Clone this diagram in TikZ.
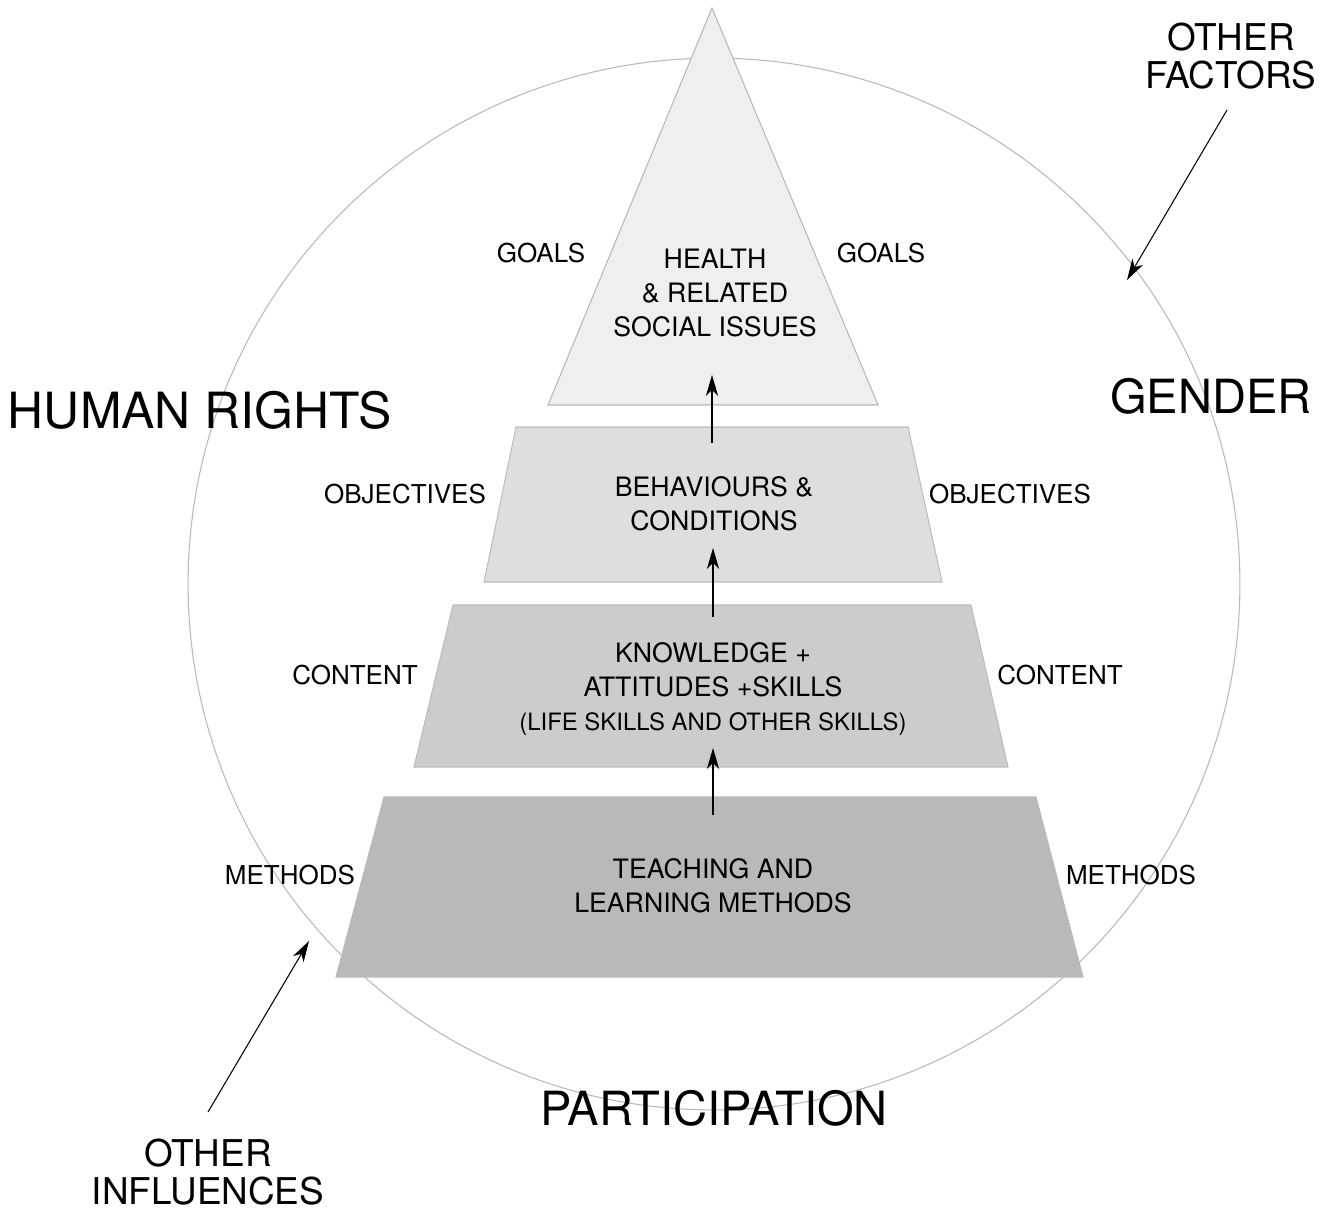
\documentclass[tikz,border=0pt]{standalone}
\usepackage{fontspec}
\setmainfont{TeX Gyre Heros}
\usetikzlibrary{arrows.meta}

\definecolor{ringgray}{HTML}{B8B8B8}
\definecolor{tierA}{HTML}{EFEFEF}
\definecolor{tierB}{HTML}{DEDEDE}
\definecolor{tierC}{HTML}{CCCCCC}
\definecolor{tierD}{HTML}{B9B9B9}

\tikzset{
  arr/.style={-{Stealth[length=12pt,width=7pt,inset=3.5pt]}, line width=0.6pt},
  side/.style={font=\fontsize{14.8pt}{19.5pt}\selectfont, align=center},
  inner/.style={font=\fontsize{15.2pt}{19.5pt}\selectfont, align=center},
  big/.style={font=\fontsize{26.8pt}{30pt}\selectfont, align=center},
  mid/.style={font=\fontsize{21pt}{21.5pt}\selectfont, align=center}
}

\begin{document}
\begin{tikzpicture}[x=0.02cm, y=-0.02cm]
      \useasboundingbox (0,0) rectangle (1332,1210);
      % Circle
      \draw[ringgray, line width=0.6pt] (714,584) circle[radius=10.52cm];
      % Tiers
      \draw[line width=0.6pt, draw=ringgray, fill=tierA] (712,8) -- (878,405)
      -- (548,405) -- cycle; % goals
      \draw[line width=0.6pt, draw=tierB!85!black, fill=tierB] (516,427) -- (908,427)
      -- (942,582) -- (484,582) -- cycle; % objectives
      \draw[line width=0.6pt, draw=tierC!92!black, fill=tierC] (453,605) -- (971,605)
      -- (1008,767) -- (414,767) -- cycle; % content
      \draw[line width=0.6pt, draw=tierD, fill=tierD] (384,797) -- (1036,797)
      -- (1083,977) -- (336,977) -- cycle; % methods
      % Tier texts
      \node[inner] (health) at (715,293) {HEALTH\\ \& RELATED\\ SOCIAL ISSUES};
      \node[inner] (behav) at (714,504) {BEHAVIOURS \&\\ CONDITIONS};
      \node[inner] (know) at (713,689) {KNOWLEDGE +\\ ATTITUDES +SKILLS\\
      {\fontsize{13.6pt}{16pt}\selectfont (LIFE SKILLS AND OTHER SKILLS)}};
      \node[inner] (teach) at (713,886) {TEACHING AND\\ LEARNING METHODS};
      % Arrows between tiers
      \coordinate (behavTail) at (712,443);
      \coordinate (healthTip) at (712,375);
      \coordinate (knowTail) at (713,617);
      \coordinate (behavTip) at (713,548);
      \coordinate (teachTail) at (713,815);
      \coordinate (knowTip) at (713,748);
      \draw[arr] (behavTail) -- (healthTip);
      \draw[arr] (knowTail) -- (behavTip);
      \draw[arr] (teachTail) -- (knowTip);
      % Side labels
      \node[side] (goalsL) at (541,253) {GOALS};
      \node[side] (goalsR) at (881,253) {GOALS};
      \node[side] (objL) at (405,494) {OBJECTIVES};
      \node[side] (objR) at (1010,494) {OBJECTIVES};
      \node[side] (contL) at (355,675) {CONTENT};
      \node[side] (contR) at (1060,675) {CONTENT};
      \node[side] (methL) at (290,875) {METHODS};
      \node[side] (methR) at (1131,875) {METHODS};
      % Ring labels
      \node[big, font=\fontsize{28.4pt}{30pt}\selectfont] (rights) at (200,410) {HUMAN RIGHTS};
      \node[big] (gender) at (1211,396) {GENDER};
      \node[big] (partic) at (714,1108) {PARTICIPATION};
      % Outside influences
      \node[mid] (factors) at (1231,56) {OTHER\\ FACTORS};
      \node[mid] (influences) at (208,1172) {OTHER\\ INFLUENCES};
      \coordinate (factorsTail) at (1227,110);
      \coordinate (factorsTip) at (1127,280);
      \coordinate (inflTail) at (208,1112);
      \coordinate (inflTip) at (309,941);
      \draw[arr] (factorsTail) -- (factorsTip);
      \draw[arr] (inflTail) -- (inflTip);
    \end{tikzpicture}
\end{document}
